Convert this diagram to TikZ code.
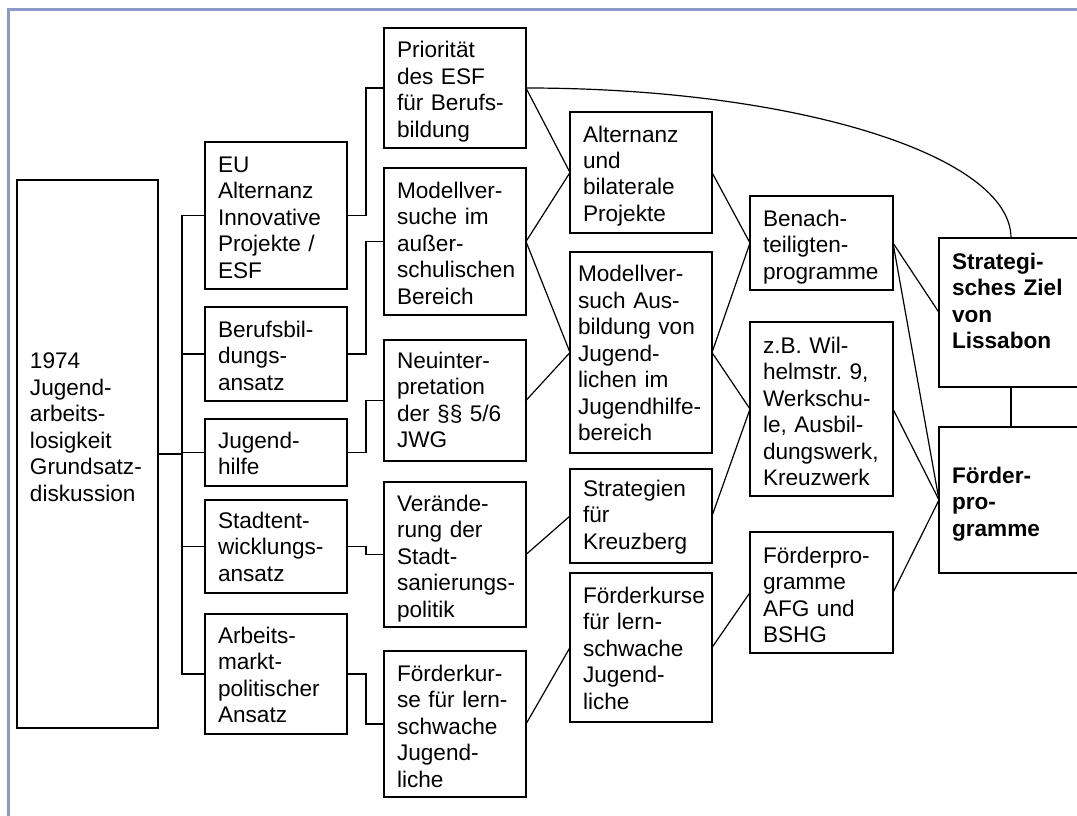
\documentclass[tikz,border=0pt]{standalone}
\usepackage{fontspec}
\setmainfont{Liberation Sans}
\definecolor{framecol}{RGB}{140,152,204}
\newcommand{\bigtext}{\fontsize{22.6pt}{26.5pt}\selectfont}
\begin{document}
\hyphenpenalty=10000
\exhyphenpenalty=10000
\frenchspacing
\begin{tikzpicture}[x=1pt,y=-1pt,
  bx/.style={draw, line width=1.3pt, rectangle, anchor=north west,
    inner xsep=13pt, inner ysep=0pt, outer sep=0pt, align=left,
    font=\bigtext},
  conn/.style={line width=1.2pt}]
\useasboundingbox (0,0) rectangle (1077,816);
\clip (0,0) rectangle (1077,816);
\draw[framecol, line width=3pt] (8.5,830) -- (8.5,10) -- (1090,10);
% column 1
\node[bx, text width=115pt, text height=188.6pt, text depth=359.4pt] (n1974) at (17,180)
  {1974\\Jugend-\\arbeits-\\losigkeit\\Grundsatz-\\diskussion};
% column 2
\node[bx, text width=116pt, text height=30pt, text depth=117pt] (eu) at (205,142)
  {EU\\Alternanz\\Innovative\\Projekte /\\ESF};
\node[bx, text width=116pt, text height=30pt, text depth=64pt] (beruf) at (205,307)
  {Berufsbil-\\dungs-\\ansatz};
\node[bx, text width=116pt, text height=29pt, text depth=38pt] (jhilfe) at (205,419)
  {Jugend-\\hilfe};
\node[bx, text width=116pt, text height=28pt, text depth=65pt] (stadt) at (205,500)
  {Stadtent-\\wicklungs-\\ansatz};
\node[bx, text width=116pt, text height=29pt, text depth=91pt] (arbeit) at (205,614)
  {Arbeits-\\markt-\\politischer\\Ansatz};
% column 3
\node[bx, text width=116pt, text height=30pt, text depth=90pt] (prio) at (384,28)
  {Priorität\\des ESF\\für Berufs-\\bildung};
\node[bx, text width=116pt, text height=30pt, text depth=117pt] (modv) at (384,168)
  {Modellver-\\suche im\\außer-\\schulischen\\Bereich};
\node[bx, text width=116pt, text height=28pt, text depth=93pt] (neu) at (384,340)
  {Neuinter-\\pretation\\der §§ 5/6\\JWG};
\node[bx, text width=116pt, text height=29pt, text depth=116pt] (ver) at (384,482)
  {Verände-\\rung der\\Stadt-\\sanierungs-\\politik};
\node[bx, text width=116pt, text height=30pt, text depth=116pt] (fk3) at (384,651)
  {Förderkur-\\se für lern-\\schwache\\Jugend-\\liche};
% column 4
\node[bx, text width=116pt, text height=30pt, text depth=91pt] (alt) at (570,112)
  {Alternanz\\und\\bilaterale\\Projekte};
\node[bx, inner xsep=8pt, text width=126pt, text height=29.5pt, text depth=171.5pt] (mv) at (570,252)
  {Modellver-\\such Aus-\\bildung von\\Jugend-\\lichen im\\Jugendhilfe-\\bereich};
\node[bx, text width=116pt, text height=27pt, text depth=67pt] (strat) at (570,469)
  {Strategien\\für\\Kreuzberg};
\node[bx, text width=116pt, text height=30pt, text depth=119pt] (fk4) at (570,573)
  {Förderkurse\\für lern-\\schwache\\Jugend-\\liche};
% column 5
\node[bx, text width=117pt, text height=30pt, text depth=64pt] (ben) at (750,196)
  {Benach-\\teiligten-\\programme};
\node[bx, text width=117pt, text height=31pt, text depth=143pt] (wil) at (750,322)
  {z.B. Wil-\\helmstr. 9,\\Werkschu-\\le, Ausbil-\\dungswerk,\\Kreuzwerk};
\node[bx, text width=117pt, text height=31pt, text depth=90pt] (afg) at (750,532)
  {Förderpro-\\gramme\\AFG und\\BSHG};
% column 6
\node[bx, text width=118pt, text height=31pt, text depth=118pt, font=\bigtext\bfseries] (lis) at (939,238)
  {Strategi-\\sches Ziel\\von\\Lissabon};
\node[bx, text width=118pt, text height=56pt, text depth=90pt, font=\bigtext\bfseries] (foe) at (939,427)
  {Förder-\\pro-\\gramme};
% connectors column 1 -> 2
\draw[conn] (n1974.east) -- ++(24,0) |- (eu.west);
\draw[conn] (n1974.east) -- ++(24,0) |- (beruf.west);
\draw[conn] (n1974.east) -- ++(24,0) |- (jhilfe.west);
\draw[conn] (n1974.east) -- ++(24,0) |- (stadt.west);
\draw[conn] (n1974.east) -- ++(24,0) |- (arbeit.west);
% column 2 -> 3
\draw[conn] (eu.east) -- ++(19,0) |- (prio.west);
\draw[conn] (beruf.east) -- ++(19,0) |- (modv.west);
\draw[conn] (jhilfe.east) -- ++(19,0) |- (neu.west);
\draw[conn] (stadt.east) -- ++(19,0) |- (ver.west);
\draw[conn] (arbeit.east) -- ++(19,0) |- (fk3.west);
% column 3 -> 4
\draw[conn] (prio.east) -- (alt.west);
\draw[conn] (modv.east) -- (alt.west);
\draw[conn] (modv.east) -- (mv.west);
\draw[conn] (neu.east) -- (mv.west);
\draw[conn] (ver.east) -- (strat.west);
\draw[conn] (fk3.east) -- (fk4.west);
% column 4 -> 5
\draw[conn] (alt.east) -- (ben.west);
\draw[conn] (mv.east) -- (ben.west);
\draw[conn] (mv.east) -- (wil.west);
\draw[conn] (strat.east) -- (wil.west);
\draw[conn] (fk4.east) -- (afg.west);
% column 5 -> 6
\draw[conn] (ben.east) -- (lis.west);
\draw[conn] (ben.east) -- (foe.west);
\draw[conn] (wil.east) -- (foe.west);
\draw[conn] (afg.east) -- (foe.west);
\draw[conn] (lis.south) -- (foe.north);
% curve
\draw[conn] (prio.east) .. controls (794,88) and (1011,155) .. (lis.north);
\end{tikzpicture}
\end{document}
